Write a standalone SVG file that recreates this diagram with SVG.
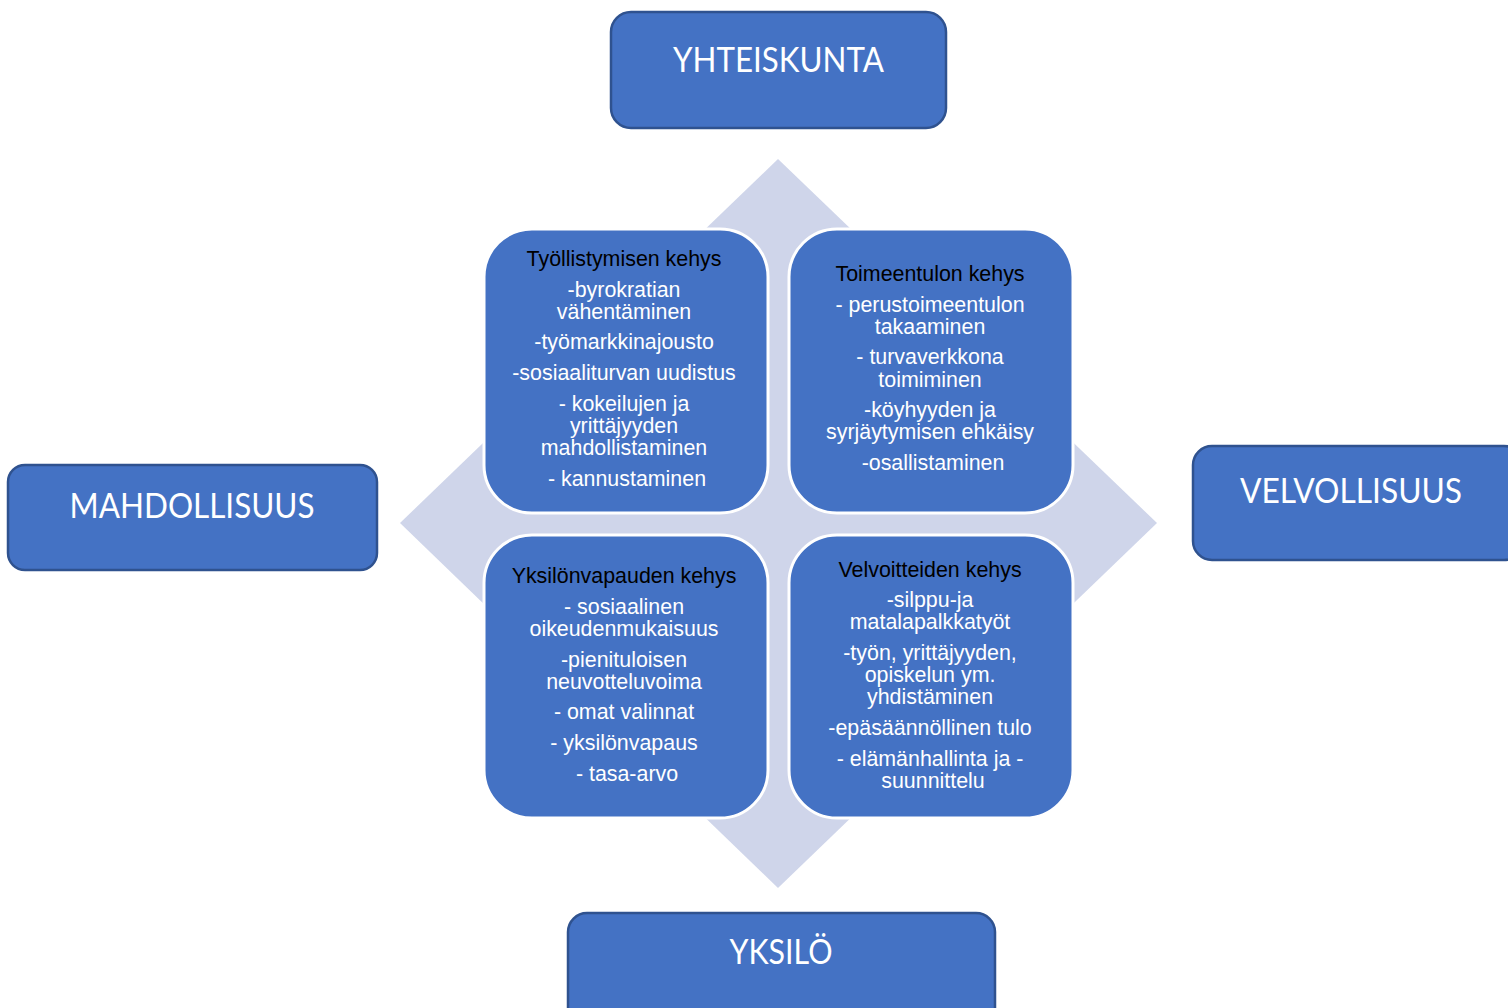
<svg xmlns="http://www.w3.org/2000/svg" width="1508" height="1008" viewBox="0 0 1508 1008">
<style>
.outer{fill:#4472C4;stroke:#2F528F;stroke-width:2.5}
.quad{fill:#4472C4;stroke:#FFFFFF;stroke-width:3}
.olab{font-family:"Lato","Open Sans","Liberation Sans",sans-serif;font-size:35px;fill:#FFFFFF;text-anchor:middle}
.qt{font-family:"Liberation Sans",Arial,sans-serif;font-size:21.4px;text-anchor:middle}
.qt .h{fill:#000000}
.qt .w{fill:#FFFFFF}
</style>
<rect width="1508" height="1008" fill="#FFFFFF"/>
<g id="background">
<polygon points="778,159 1157,523 778,888 400,523" fill="#CFD5EA"/>
</g>
<g id="connectors"></g>
<g id="yhteiskunta">
<rect class="outer" x="611" y="12" width="335" height="116" rx="20"/>
<text class="olab" x="778.5" y="72" textLength="211" lengthAdjust="spacingAndGlyphs">YHTEISKUNTA</text>
</g>
<g id="mahdollisuus">
<rect class="outer" x="8" y="465" width="369" height="105" rx="17"/>
<text class="olab" x="192" y="518" textLength="245" lengthAdjust="spacingAndGlyphs">MAHDOLLISUUS</text>
</g>
<g id="velvollisuus">
<rect class="outer" x="1193" y="446" width="330" height="114" rx="19"/>
<text class="olab" x="1351" y="503" textLength="222" lengthAdjust="spacingAndGlyphs">VELVOLLISUUS</text>
</g>
<g id="yksilo">
<rect class="outer" x="568" y="913" width="427" height="115" rx="19"/>
<text class="olab" x="781" y="964" textLength="103" lengthAdjust="spacingAndGlyphs">YKSILÖ</text>
</g>
<g id="tyollistymisen-kehys">
<rect class="quad" x="484" y="229" width="284" height="284" rx="48"/>
<text class="qt">
<tspan class="h" x="627" y="266">Työllistymisen kehys</tspan>
<tspan class="w" x="627" y="297">-byrokratian</tspan>
<tspan class="w" x="627" y="319">vähentäminen</tspan>
<tspan class="w" x="627" y="349">-työmarkkinajousto</tspan>
<tspan class="w" x="627" y="380">-sosiaaliturvan uudistus</tspan>
<tspan class="w" x="627" y="411">- kokeilujen ja</tspan>
<tspan class="w" x="627" y="433">yrittäjyyden</tspan>
<tspan class="w" x="627" y="455">mahdollistaminen</tspan>
<tspan class="w" x="627" y="486">- kannustaminen</tspan>
</text>
</g>
<g id="toimeentulon-kehys">
<rect class="quad" x="789" y="229" width="284" height="284" rx="48"/>
<text class="qt">
<tspan class="h" x="933" y="281">Toimeentulon kehys</tspan>
<tspan class="w" x="933" y="312">- perustoimeentulon</tspan>
<tspan class="w" x="933" y="334">takaaminen</tspan>
<tspan class="w" x="933" y="364">- turvaverkkona</tspan>
<tspan class="w" x="933" y="387">toimiminen</tspan>
<tspan class="w" x="933" y="417">-köyhyyden ja</tspan>
<tspan class="w" x="933" y="439">syrjäytymisen ehkäisy</tspan>
<tspan class="w" x="933" y="470">-osallistaminen</tspan>
</text>
</g>
<g id="yksilonvapauden-kehys">
<rect class="quad" x="484" y="535" width="284" height="283" rx="48"/>
<text class="qt">
<tspan class="h" x="627" y="583">Yksilönvapauden kehys</tspan>
<tspan class="w" x="627" y="614">- sosiaalinen</tspan>
<tspan class="w" x="627" y="636">oikeudenmukaisuus</tspan>
<tspan class="w" x="627" y="667">-pienituloisen</tspan>
<tspan class="w" x="627" y="689">neuvotteluvoima</tspan>
<tspan class="w" x="627" y="719">- omat valinnat</tspan>
<tspan class="w" x="627" y="750">- yksilönvapaus</tspan>
<tspan class="w" x="627" y="781">- tasa-arvo</tspan>
</text>
</g>
<g id="velvoitteiden-kehys">
<rect class="quad" x="789" y="535" width="284" height="283" rx="48"/>
<text class="qt">
<tspan class="h" x="933" y="577">Velvoitteiden kehys</tspan>
<tspan class="w" x="933" y="607">-silppu-ja</tspan>
<tspan class="w" x="933" y="629">matalapalkkatyöt</tspan>
<tspan class="w" x="933" y="660">-työn, yrittäjyyden,</tspan>
<tspan class="w" x="933" y="682">opiskelun ym.</tspan>
<tspan class="w" x="933" y="704">yhdistäminen</tspan>
<tspan class="w" x="933" y="735">-epäsäännöllinen tulo</tspan>
<tspan class="w" x="933" y="766">- elämänhallinta ja -</tspan>
<tspan class="w" x="933" y="788">suunnittelu</tspan>
</text>
</g>
</svg>
